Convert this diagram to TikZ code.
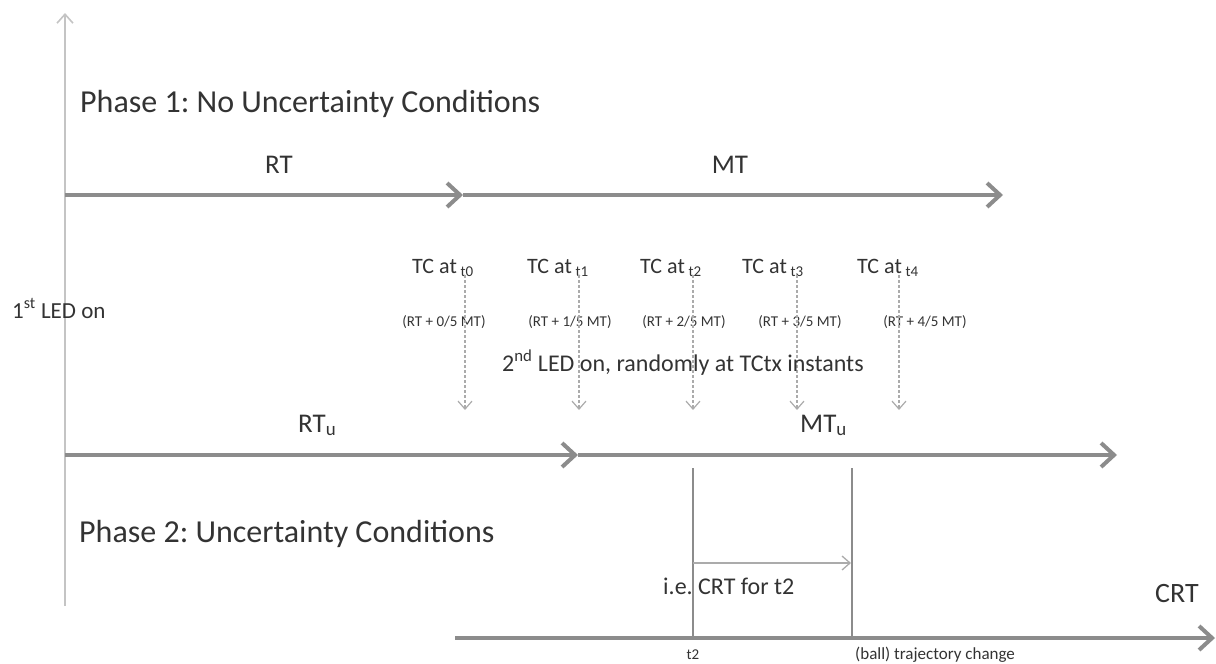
\documentclass[tikz,border=0pt]{standalone}
\usepackage{fontspec}
\setmainfont{Carlito}
\usetikzlibrary{arrows.meta,positioning}

\definecolor{linegray}{HTML}{8C8C8C}
\definecolor{axisgray}{HTML}{C4C4C4}
\definecolor{dropgray}{HTML}{ABABAB}
\definecolor{txtgray}{HTML}{333333}

\newcommand{\fsz}[1]{\fontsize{#1}{#1}\selectfont}
\newcommand{\tcsub}[1]{\raisebox{-0.3ex}{\fsz{15}#1}}
\frenchspacing

\begin{document}
\begin{tikzpicture}[x=1pt,y=-1pt,
  lbl/.style={inner sep=0pt,text=txtgray},
  phase/.style={lbl,anchor=base west,font=\fsz{32}},
  span/.style={lbl,anchor=base,font=\fsz{27}},
  tc/.style={lbl,anchor=base west,font=\fsz{22}},
  note/.style={lbl,font=\fsz{15}},
  timeline/.style={draw=linegray,line width=4pt,-{Straight Barb[length=13pt,width=24pt]}},
  axis/.style={draw=axisgray,line width=2pt,-{Straight Barb[length=9pt,width=16pt,line width=1.6pt]}},
  drop/.style={draw=dropgray,line width=1.3pt,dash pattern=on 3pt off 2pt,-{Straight Barb[length=8pt,width=14pt,line width=1.2pt]}},
  tick/.style={draw=linegray,line width=2.5pt},
  gap/.style={draw=dropgray,line width=1.3pt,-{Straight Barb[length=8pt,width=14pt]}}
]
\useasboundingbox (0,0) rectangle (1216,664);

% vertical axis
\coordinate (ax0) at (65,606);
\coordinate (ax1) at (65,13);
\draw[axis] (ax0) -- (ax1);

% phase 1 timeline
\node[phase] (ph1) at (80,112) {Phase 1: No Uncertainty Conditions};
\coordinate (o1) at (65,195);
\coordinate (m1) at (463,195);
\coordinate (f1) at (1003,195);
\draw[timeline] (o1) -- (m1);
\draw[timeline] (m1) -- (f1);
\node[span] (rt) at (279,173) {RT};
\node[span] (mt) at (730,173) {MT};

\node[lbl,anchor=base west,font=\fsz{23}] (led1) at (12,318) {1\textsuperscript{st} LED on};

% TC instants
\foreach \i/\x/\lx/\cx in {0/465/412/444, 1/579/527/570, 2/693/640/684, 3/797/742/800, 4/899/857/925}{
  \node[tc] (tc\i) at (\lx,273) {TC at\,\tcsub{t\i}};
  \node[note] (rel\i) at (\cx,322) {(RT + \i/5 MT)};
  \coordinate (d\i) at (\x,275);
  \coordinate (e\i) at (\x,410);
  \draw[drop] (d\i) -- (e\i);
}
\node[tc,font=\fsz{24}] (led2) at (502,371) {2\textsuperscript{nd} LED on, randomly at TCtx instants};

% phase 2 timeline
\coordinate (o2) at (65,455);
\coordinate (m2) at (578,455);
\coordinate (f2) at (1117,455);
\draw[timeline] (o2) -- (m2);
\draw[timeline] (m2) -- (f2);
\node[span,anchor=base west] (rtu) at (298,432) {RT\textsubscript{u}};
\node[span,anchor=base west] (mtu) at (800,432) {MT\textsubscript{u}};
\node[phase] (ph2) at (79,542) {Phase 2: Uncertainty Conditions};

% CRT axis
\coordinate (b0) at (455,638);
\coordinate (b1) at (1215,638);
\draw[timeline] (b0) -- (b1);
\coordinate (v1t) at (693,468);
\coordinate (v1b) at (693,638);
\coordinate (v2t) at (852,468);
\coordinate (v2b) at (852,638);
\draw[tick] (v1t) -- (v1b);
\draw[tick] (v2t) -- (v2b);
\coordinate (g0) at (693,563);
\coordinate (g1) at (851,563);
\draw[gap] (g0) -- (g1);
\node[tc,font=\fsz{24}] (crtt2) at (663,594) {i.e. CRT for t2};
\node[span,anchor=base west,font=\fsz{28}] (crt) at (1155,602) {CRT};
\node[note] (t2) at (693,655) {t2};
\node[note,anchor=west,font=\fsz{17}] (ball) at (855,655) {(ball) trajectory change};
\end{tikzpicture}
\end{document}
